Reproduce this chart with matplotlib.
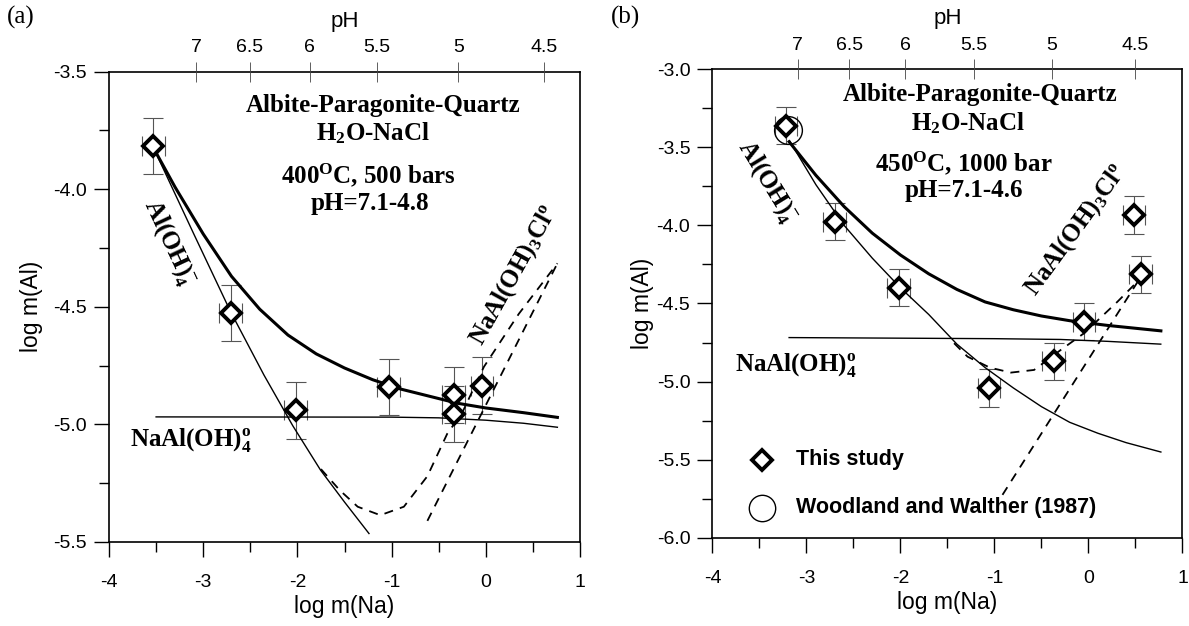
import matplotlib
matplotlib.use("Agg")
import matplotlib.pyplot as plt

plt.rcParams['font.family'] = ['Liberation Sans', 'DejaVu Sans']
plt.rcParams['axes.unicode_minus'] = False
plt.rcParams['mathtext.fontset'] = 'custom'
plt.rcParams['mathtext.rm'] = 'Liberation Serif:bold'
plt.rcParams['mathtext.it'] = 'Liberation Serif:bold'
plt.rcParams['mathtext.bf'] = 'Liberation Serif:bold'

# ---------------- data: panel (a) 400 C, 500 bars ----------------
a_pts_x = [-3.53, -2.71, -2.02, -1.03, -0.34, -0.34, -0.04]
a_pts_y = [-3.815, -4.525, -4.94, -4.84, -4.875, -4.955, -4.835]
a_total_x = [-3.52, -3.3, -3.0, -2.7, -2.4, -2.1, -1.8, -1.5, -1.2, -0.9, -0.6, -0.3, 0.0, 0.4, 0.76]
a_total_y = [-3.83, -3.99, -4.19, -4.37, -4.51, -4.62, -4.70, -4.76, -4.81, -4.85, -4.88, -4.91, -4.93, -4.95, -4.97]
a_aloh4_x = [-3.52, -3.1, -2.71, -2.355, -2.05, -1.753, -1.5, -1.24]
a_aloh4_y = [-3.83, -4.19, -4.52, -4.79, -5.005, -5.195, -5.33, -5.464]
a_naaloh4_x = [-3.5, -1.0, -0.5, 0.0, 0.4, 0.76]
a_naaloh4_y = [-4.968, -4.969, -4.972, -4.982, -4.995, -5.012]
a_dash_x = [-1.75, -1.55, -1.36, -1.12, -0.87, -0.62, -0.41, -0.25, -0.02, 0.35, 0.76]
a_dash_y = [-5.19, -5.28, -5.35, -5.386, -5.35, -5.22, -5.04, -4.95, -4.755, -4.53, -4.315]
a_cl_x = [-0.62, 0.76]
a_cl_y = [-5.41, -4.315]
a_ph_pos = [-3.072, -2.503, -1.869, -1.158, -0.291, 0.618]
ph_labels = ['7', '6.5', '6', '5.5', '5', '4.5']

# ---------------- data: panel (b) 450 C, 1000 bar ----------------
b_pts_x = [-3.22, -2.70, -2.02, -1.06, -0.37, -0.05, 0.485, 0.556]
b_pts_y = [-3.362, -3.976, -4.398, -5.042, -4.871, -4.616, -3.933, -4.313]
b_ww_x = [-3.2]
b_ww_y = [-3.39]
b_total_x = [-3.185, -2.9, -2.6, -2.3, -2.0, -1.7, -1.4, -1.1, -0.8, -0.5, -0.2, 0.2, 0.77]
b_total_y = [-3.465, -3.68, -3.88, -4.05, -4.19, -4.31, -4.41, -4.49, -4.54, -4.58, -4.61, -4.64, -4.675]
b_aloh4_x = [-3.18, -2.9, -2.6, -2.3, -2.0, -1.7, -1.4, -1.1, -0.8, -0.5, -0.2, 0.1, 0.4, 0.77]
b_aloh4_y = [-3.46, -3.74, -4.00, -4.21, -4.40, -4.57, -4.76, -4.91, -5.04, -5.16, -5.26, -5.33, -5.39, -5.45]
b_naaloh4_x = [-3.185, -1.0, -0.3, 0.2, 0.769]
b_naaloh4_y = [-4.718, -4.725, -4.73, -4.742, -4.76]
b_dash_x = [-1.43, -1.287, -1.05, -0.826, -0.579, -0.295, -0.047, 0.309, 0.556]
b_dash_y = [-4.754, -4.84, -4.91, -4.942, -4.925, -4.797, -4.69, -4.488, -4.338]
b_cl_x = [-0.915, 0.556]
b_cl_y = [-5.724, -4.33]
b_ph_pos = [-3.093, -2.547, -1.951, -1.223, -0.390, 0.496]

W, H = 1189, 626
fig = plt.figure(figsize=(W / 100, H / 100), dpi=100)

def box(l, r, t, b):
    return [l / W, 1 - b / H, (r - l) / W, (b - t) / H]

axA = fig.add_axes(box(109, 580, 71.7, 542))
axB = fig.add_axes(box(712.5, 1182.5, 69, 538))

serif_b = dict(family='Liberation Serif', weight='bold')
ANN = 18

def style(ax, ylim, yticks, yminor, ph_pos, ylabelpad):
    ax.set_xlim(-4, 1)
    ax.set_ylim(*ylim)
    ax.set_xticks([-4, -3, -2, -1, 0, 1])
    ax.set_xticklabels(['-4', '-3', '-2', '-1', '0', '1'])
    ax.set_xticks([-3.5, -2.5, -1.5, -0.5, 0.5], minor=True)
    ax.set_yticks(yticks)
    ax.set_yticklabels(['%.1f' % v for v in yticks])
    ax.set_yticks(yminor, minor=True)
    ax.tick_params(which='major', direction='out', length=11, width=1, labelsize=14)
    ax.tick_params(which='minor', direction='out', length=7, width=1)
    ax.tick_params(axis='x', which='major', pad=12)
    ax.tick_params(axis='y', which='major', pad=5)
    ax.tick_params(axis='x', which='both', top=False)
    ax.tick_params(axis='y', which='both', right=False)
    for s in ax.spines.values():
        s.set_linewidth(1.2)
    ax.set_xlabel('log m(Na)', fontsize=16.5, labelpad=3)
    ax.set_ylabel('log m(Al)', fontsize=16.5, labelpad=ylabelpad)
    top = ax.twiny()
    top.set_xlim(-4, 1)
    top.set_xticks(ph_pos)
    top.set_xticklabels(ph_labels)
    top.tick_params(direction='inout', length=14, width=0.6, labelsize=14, pad=4, color='#444444')
    top.set_xlabel('pH', fontsize=16, labelpad=9)
    for s in top.spines.values():
        s.set_visible(False)

def points(ax, x, y):
    ax.errorbar(x, y, xerr=0.12, yerr=0.12, fmt='none', ecolor='#555555',
                elinewidth=0.8, capsize=7, capthick=0.8, zorder=3)
    ax.plot(x, y, ls='none', marker='D', ms=10, mfc='white', mec='black', mew=2.8, zorder=5)

# ---- panel (a)
style(axA, (-5.5, -3.5), [-5.5, -5.0, -4.5, -4.0, -3.5],
      [-5.25, -4.75, -4.25, -3.75], a_ph_pos, 7)
axA.plot(a_total_x, a_total_y, color='black', lw=2.2, zorder=4)
axA.plot(a_aloh4_x, a_aloh4_y, color='black', lw=1.0, zorder=4)
axA.plot(a_naaloh4_x, a_naaloh4_y, color='black', lw=1.0, zorder=4)
axA.plot(a_dash_x, a_dash_y, color='black', lw=1.3, ls=(0, (5, 4)), zorder=4)
axA.plot(a_cl_x, a_cl_y, color='black', lw=1.3, ls=(0, (5, 4)), zorder=4)
points(axA, a_pts_x, a_pts_y)

axA.text(-1.087, -3.642, 'Albite-Paragonite-Quartz', ha='center', va='center', fontsize=ANN, **serif_b)
axA.text(-1.202, -3.761, r'H$_2$O-NaCl', ha='center', va='center', fontsize=ANN, **serif_b)
axA.text(-1.243, -3.94, r'400$^{\rm O}$C, 500 bars', ha='center', va='center', fontsize=ANN, **serif_b)
axA.text(-1.233, -4.059, 'pH=7.1-4.8', ha='center', va='center', fontsize=ANN, **serif_b)
axA.text(-3.366, -4.229, r'Al(OH)$_4^{-}$', ha='center', va='center', rotation=-65,
         rotation_mode='anchor', fontsize=ANN, **serif_b)
axA.text(0.297, -4.365, r'NaAl(OH)$_3$Cl$^{\rm o}$', ha='center', va='center', rotation=61,
         rotation_mode='anchor', fontsize=ANN, **serif_b)
axA.text(-3.131, -5.067, r'NaAl(OH)$_4^{\rm o}$', ha='center', va='center', fontsize=ANN, **serif_b)

# ---- panel (b)
style(axB, (-6.0, -3.0), [-6.0, -5.5, -5.0, -4.5, -4.0, -3.5, -3.0],
      [-5.75, -5.25, -4.75, -4.25, -3.75, -3.25], b_ph_pos, 2)
axB.plot(b_total_x, b_total_y, color='black', lw=2.2, zorder=4)
axB.plot(b_aloh4_x, b_aloh4_y, color='black', lw=1.0, zorder=4)
axB.plot(b_naaloh4_x, b_naaloh4_y, color='black', lw=1.0, zorder=4)
axB.plot(b_dash_x, b_dash_y, color='black', lw=1.3, ls=(0, (5, 4)), zorder=4)
axB.plot(b_cl_x, b_cl_y, color='black', lw=1.3, ls=(0, (5, 4)), zorder=4)
points(axB, b_pts_x, b_pts_y)
axB.plot(b_ww_x, b_ww_y, ls='none', marker='o', ms=20, mfc='none', mec='black', mew=1.0, zorder=6)

axB.text(-1.156, -3.166, 'Albite-Paragonite-Quartz', ha='center', va='center', fontsize=ANN, **serif_b)
axB.text(-1.284, -3.345, r'H$_2$O-NaCl', ha='center', va='center', fontsize=ANN, **serif_b)
axB.text(-1.327, -3.601, r'450$^{\rm O}$C, 1000 bar', ha='center', va='center', fontsize=ANN, **serif_b)
axB.text(-1.327, -3.774, 'pH=7.1-4.6', ha='center', va='center', fontsize=ANN, **serif_b)
axB.text(-3.422, -3.722, r'Al(OH)$_4^{-}$', ha='center', va='center', rotation=-58.6,
         rotation_mode='anchor', fontsize=ANN, **serif_b)
axB.text(-0.134, -4.029, r'NaAl(OH)$_3$Cl$^{\rm o}$', ha='center', va='center', rotation=54,
         rotation_mode='anchor', fontsize=ANN, **serif_b)
axB.text(-3.114, -4.893, r'NaAl(OH)$_4^{\rm o}$', ha='center', va='center', fontsize=ANN, **serif_b)

# legend (b)
axB.plot([-3.478], [-5.5], ls='none', marker='D', ms=10, mfc='white', mec='black', mew=2.8, zorder=5)
axB.text(-3.114, -5.5, 'This study', ha='left', va='center', fontsize=15.5, weight='bold')
axB.plot([-3.478], [-5.807], ls='none', marker='o', ms=19, mfc='none', mec='black', mew=1.0, zorder=5)
axB.text(-3.114, -5.807, 'Woodland and Walther (1987)', ha='left', va='center', fontsize=15.5, weight='bold')

fig.text(21 / W, 1 - 17 / H, '(a)', ha='center', va='center', fontsize=18, family='Liberation Serif')
fig.text(625 / W, 1 - 17 / H, '(b)', ha='center', va='center', fontsize=18, family='Liberation Serif')

fig.savefig('out.png', dpi=100)
